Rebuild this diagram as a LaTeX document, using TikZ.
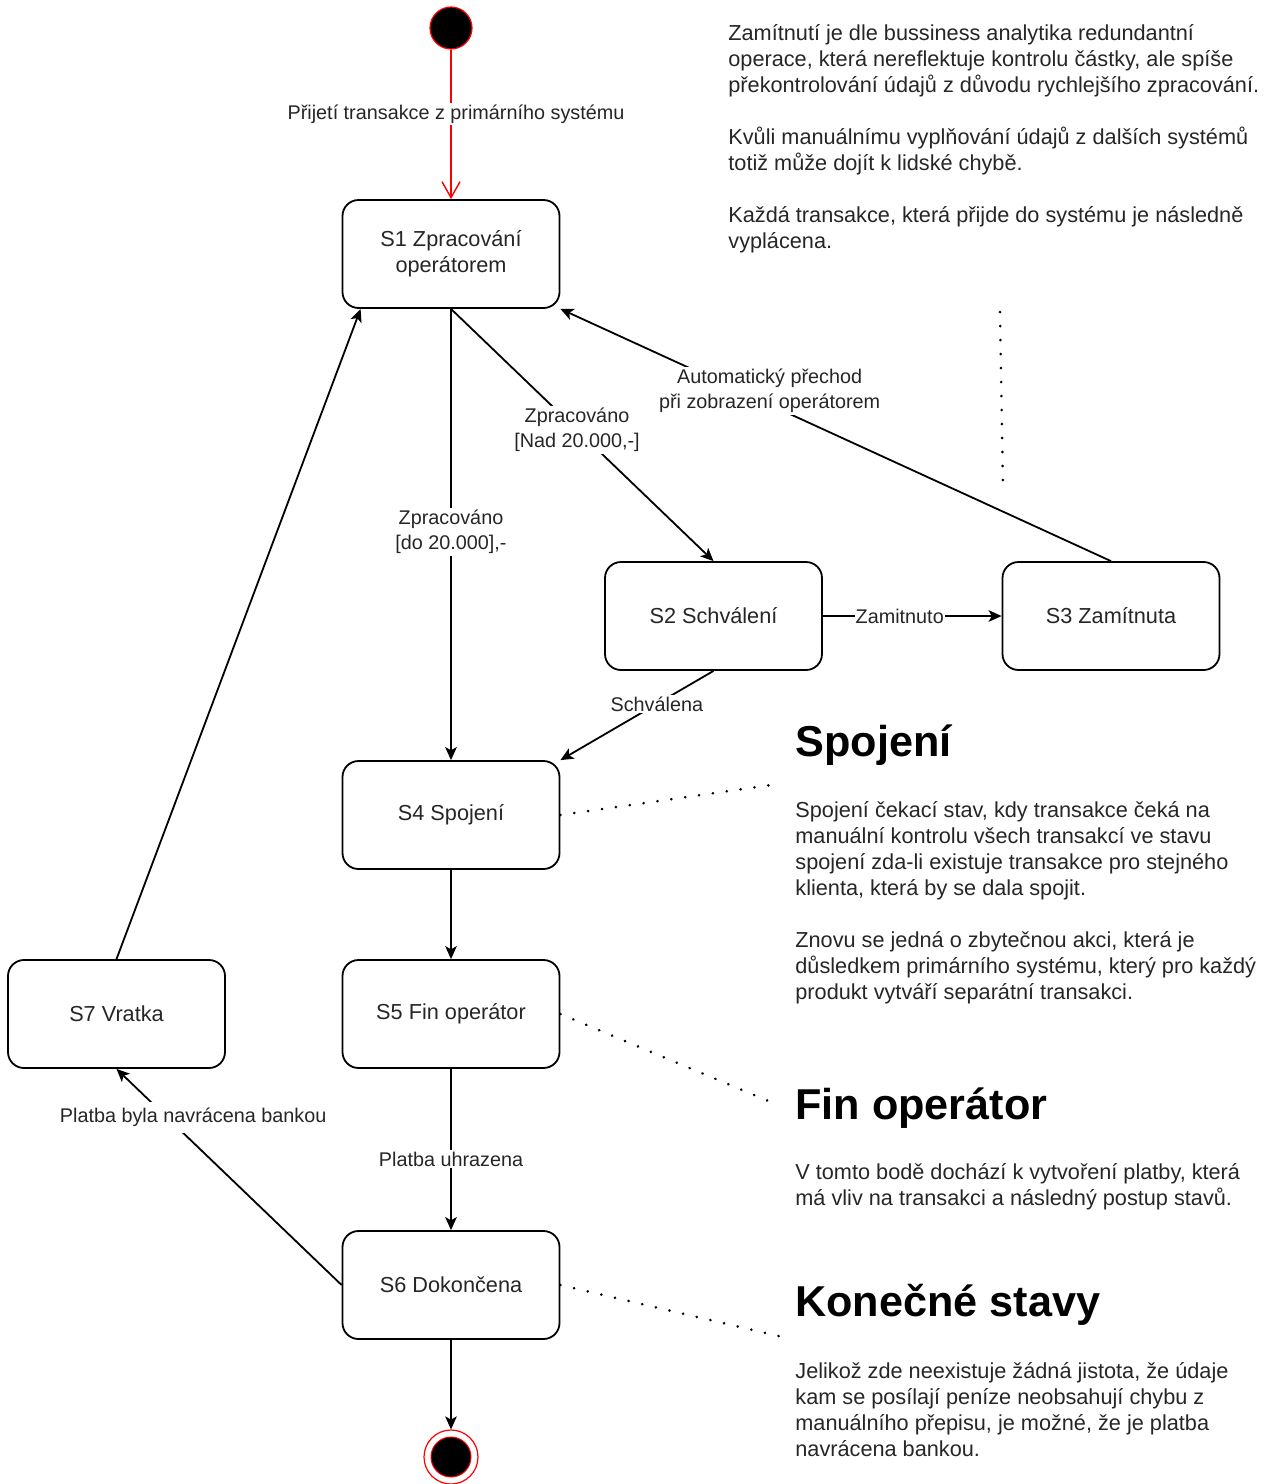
\documentclass[tikz,border=0pt]{standalone}
\usepackage{fontspec}
\setmainfont{Liberation Sans}
\usetikzlibrary{arrows.meta}

% left-aligned block of lines whose baseline is the first line's baseline
\newcommand{\blocklines}[1]{\begin{tabular}[t]{@{}l@{}}#1\end{tabular}}

\begin{document}
\begin{tikzpicture}[
  x=0.5pt, y=-0.5pt,
  stbox/.style={draw=black, line width=0.9pt, rounded corners=8pt, fill=white,
    minimum width=108.5pt, minimum height=54pt, inner sep=0pt, align=center,
    font=\fontsize{10.85}{13}\selectfont, text=black!85},
  lbl/.style={fill=white, inner sep=1pt, align=center,
    font=\fontsize{9.9}{12.5}\selectfont, text=black!85},
  arr/.style={draw=black, line width=0.9pt,
    -{Stealth[length=6.5pt, width=5.8pt, inset=1.6pt]}},
  redarr/.style={draw=red, line width=0.7pt,
    -{Straight Barb[length=8pt, width=9pt]}},
  dotline/.style={draw=black, line width=1.4pt, line cap=round,
    dash pattern=on 0.05pt off 6.95pt},
  note/.style={anchor=base west, inner sep=0pt,
    font=\fontsize{10.85}{13}\selectfont, text=black!85},
  heading/.style={anchor=base west, inner sep=0pt,
    font=\fontsize{21.6}{26}\selectfont\bfseries, text=black},
]
\useasboundingbox (0,0) rectangle (1264,1484);

% initial and final pseudo-states
\node[circle, draw=red, line width=0.6pt, fill=black, minimum size=21pt, inner sep=0pt] (init) at (451,28) {};
\node[circle, draw=red, line width=0.6pt, fill=white, minimum size=27pt, inner sep=0pt] (fin) at (451,1457) {};
\node[circle, draw=red, line width=0.5pt, fill=black, minimum size=20pt, inner sep=0pt] (fincore) at (fin.center) {};

% states
\node[stbox] (s1) at (451,254) {S1 Zpracování\\operátorem};
\node[stbox] (s2) at (713.5,616) {S2 Schválení};
\node[stbox] (s3) at (1111,616) {S3 Zamítnuta};
\node[stbox] (s4) at (451,815) {S4 Spojení};
\node[stbox] (s5) at (451,1014) {S5 Fin operátor};
\node[stbox] (s7) at (116.5,1014) {S7 Vratka};
\node[stbox] (s6) at (451,1285) {S6 Dokončena};

% transitions
\draw[redarr] (init) -- node[lbl, pos=0.43, xshift=2.5pt] {Přijetí transakce z primárního systému} (s1);
\draw[arr] (s1) -- node[lbl, pos=0.495] {Zpracováno\\{[}do 20.000{]},-} (s4);
\draw[arr] (s1.south) -- node[lbl, pos=0.48] {Zpracováno\\{[}Nad 20.000,-{]}} (s2.north);
\draw[arr] (s3.north) -- node[lbl, pos=0.62, yshift=7pt] {Automatický přechod\\při zobrazení operátorem} (s1.south east);
\draw[arr] (s2) -- node[lbl, pos=0.43, inner sep=0.5pt] {Zamitnuto} (s3);
\draw[arr] (s2.south) -- node[lbl, pos=0.37] {Schválena} (s4.north east);
\draw[arr] (s4) -- (s5);
\draw[arr] (s5) -- node[lbl, pos=0.56] {Platba uhrazena} (s6);
\draw[arr] (s6.west) -- node[lbl, pos=0.775, xshift=13pt, inner sep=3pt] {Platba byla navrácena bankou} (s7.south);
\draw[arr] (s7.north) -- ([xshift=9.5pt]s1.south west);
\draw[arr] (s6) -- (fin);

% dotted note links
\coordinate (v1) at (1000,312);
\coordinate (v2) at (1003,490);
\coordinate (c4) at (778,784);
\coordinate (c5) at (778,1105);
\coordinate (c6) at (787,1338);
\draw[dotline] (v1) -- (v2);
\draw[dotline] (s4.east) -- (c4);
\draw[dotline] (s5.east) -- (c5);
\draw[dotline] (s6.east) -- (c6);

% notes
\node[note] (ntop) at (728,40) {\blocklines{%
Zamítnutí je dle bussiness analytika redundantní\\
operace, která nereflektuje kontrolu částky, ale spíše\\
překontrolování údajů z důvodu rychlejšího zpracování.\\[13pt]
Kvůli manuálnímu vyplňování údajů z dalších systémů\\
totiž může dojít k lidské chybě.\\[13pt]
Každá transakce, která přijde do systému je následně\\
vyplácena.}};

\node[heading] (hspoj) at (795,756) {Spojení};
\node[note] (nspoj) at (795,817) {\blocklines{%
Spojení čekací stav, kdy transakce čeká na\\
manuální kontrolu všech transakcí ve stavu\\
spojení zda-li existuje transakce pro stejného\\
klienta, která by se dala spojit.\\[13pt]
Znovu se jedná o zbytečnou akci, která je\\
důsledkem primárního systému, který pro každý\\
produkt vytváří separátní transakci.}};

\node[heading] (hfin) at (795,1119) {Fin operátor};
\node[note] (nfin) at (795,1179) {\blocklines{%
V tomto bodě dochází k vytvoření platby, která\\
má vliv na transakci a následný postup stavů.}};

\node[heading] (hkon) at (795,1316) {Konečné stavy};
\node[note] (nkon) at (795,1378) {\blocklines{%
Jelikož zde neexistuje žádná jistota, že údaje\\
kam se posílají peníze neobsahují chybu z\\
manuálního přepisu, je možné, že je platba\\
navrácena bankou.}};
\end{tikzpicture}
\end{document}
